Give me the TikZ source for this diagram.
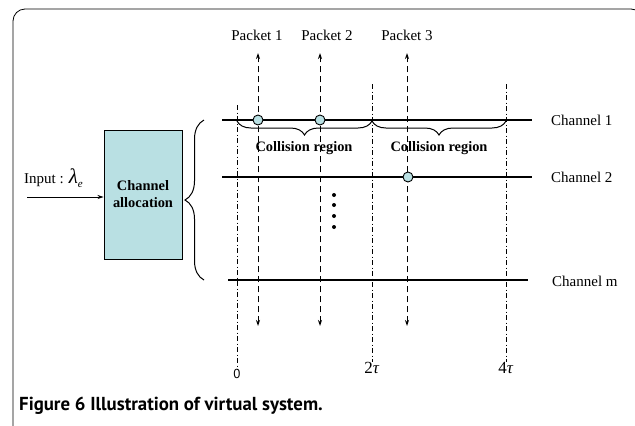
\documentclass[tikz,border=0pt]{standalone}
\usepackage{fontspec}
\setmainfont{Liberation Serif}
\newfontfamily\capfont{PT Sans}
\usetikzlibrary{arrows.meta,decorations.pathreplacing}
\definecolor{cellcyan}{RGB}{185,224,227}
\begin{document}
\begin{tikzpicture}[x=1pt, y=-1pt,
  %% Channel allocation box
  allocbox/.style={draw, line width=0.9pt, fill=cellcyan, minimum width=78pt,
                   minimum height=129pt, align=center, inner sep=0pt,
                   font=\fontsize{14.4}{17}\selectfont\bfseries},
  %% plain serif labels
  lbl/.style={inner sep=0pt, font=\fontsize{15}{17}\selectfont},
  %% bold brace labels
  blbl/.style={inner sep=0pt, font=\fontsize{14.4}{17}\selectfont\bfseries},
  %% channel line
  chan/.style={line width=1.3pt},
  %% time marks (dash-dot)
  tline/.style={line width=0.9pt, dash pattern=on 5pt off 2.5pt on 1pt off 2.5pt},
  %% packet arrows (dashed, both ends)
  parr/.style={{Stealth[length=6pt,width=4pt]}-{Stealth[length=6pt,width=4pt]},
               line width=1pt, dash pattern=on 6pt off 4pt},
  %% collision points
  hit/.style={circle, draw, line width=0.9pt, fill=cellcyan, minimum size=10pt,
              inner sep=0pt},
  brc/.style={decorate, decoration={brace, amplitude=#1}, line width=1pt}
]
\useasboundingbox (0,0) rectangle (635,426);

%% ── Panel frame ────────────────────────────────────────────────────────
\draw[line width=0.8pt, rounded corners=12pt] (13,430) -- (13,9) -- (643,9) -- (643,430);

%% ── Left part: input and allocation box ────────────────────────────────
\node[allocbox] (alloc) at (143,194.5) {Channel\\allocation};
\node[lbl, anchor=base west] (input) at (24,183)
  {Input : {\fontsize{21}{21}\selectfont\textit{λ}}\raisebox{-4pt}{\fontsize{11}{11}\selectfont\textit{e}}};
\coordinate (in) at (27,197);
\draw[-{Stealth[length=6pt,width=4pt]}, line width=1pt] (in) -- (alloc.west |- in);

%% big brace over all channels
\coordinate (bb) at (204,280);
\coordinate (bt) at (204,120);
\draw[brc=19pt] (bb) -- (bt);

%% ── Channels ───────────────────────────────────────────────────────────
\node[lbl, anchor=west] (ch1) at (551,120) {Channel 1};
\node[lbl, anchor=west] (ch2) at (551,177) {Channel 2};
\node[lbl, anchor=west] (chm) at (552,281) {Channel m};
\coordinate (c1w) at (222,120); \coordinate (c1e) at (532,120);
\coordinate (c2w) at (222,177); \coordinate (c2e) at (532,177);
\coordinate (cmw) at (228,280); \coordinate (cme) at (528,280);
\draw[chan] (c1w) -- (c1e);
\draw[chan] (c2w) -- (c2e);
\draw[chan] (cmw) -- (cme);

%% ── Time marks ─────────────────────────────────────────────────────────
\node[inner sep=0pt, font=\capfont\fontsize{13}{15}\selectfont] (t0) at (237,374) {0};
\node[inner sep=0pt, font=\fontsize{17}{19}\selectfont] (t2) at (372,368) {2\textit{τ}};
\node[inner sep=0pt, font=\fontsize{17}{19}\selectfont] (t4) at (506,368) {4\textit{τ}};
\coordinate (t0top) at (237,105);
\coordinate (t2top) at (372,84);
\coordinate (t4top) at (506,84);
\draw[tline] (t0top) -- (t0.north);
\draw[tline] (t2top) -- (t2.north);
\draw[tline] (t4top) -- (t4.north);

%% ── Packets ────────────────────────────────────────────────────────────
\node[lbl] (p1) at (257,35) {Packet 1};
\node[lbl] (p2) at (327,35) {Packet 2};
\node[lbl] (p3) at (407,35) {Packet 3};
\foreach \n/\x in {1/258, 2/320, 3/407} {
  \coordinate (pt\n) at (\x,53);
  \coordinate (pb\n) at (\x,326);
  \draw[parr] (pb\n) -- (pt\n);
}

%% collision braces below channel 1
\coordinate (r0) at (237,121);
\coordinate (r2) at (372,121);
\coordinate (r4) at (506,121);
\draw[brc=14pt] (r2) -- (r0);
\draw[brc=14pt] (r4) -- (r2);
\node[blbl] (cr1) at (304,148) {Collision region};
\node[blbl] (cr2) at (439,148) {Collision region};

%% collision points
\node[hit] (h1) at (258,120) {};
\node[hit] (h2) at (320,120) {};
\node[hit] (h3) at (408,177) {};

%% vertical dots between channels
\foreach \y in {195,205,216,227}
  \fill (334,\y) circle (2pt);

%% ── Caption ────────────────────────────────────────────────────────────
\node[anchor=base west, inner sep=0pt, font=\capfont\bfseries\fontsize{18.8}{21}\selectfont]
  (cap) at (19,410) {Figure 6 Illustration of virtual system.};
\end{tikzpicture}
\end{document}
